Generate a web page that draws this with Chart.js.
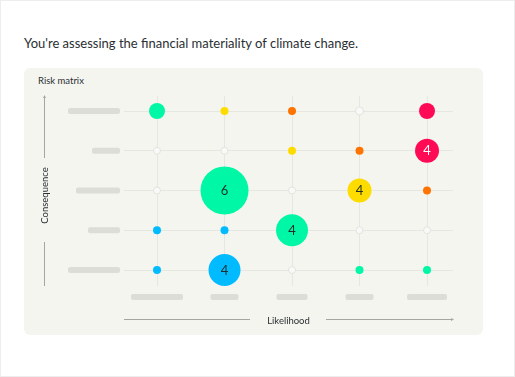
<!DOCTYPE html>
<html>
<head>
<meta charset="utf-8">
<script src="https://cdn.jsdelivr.net/npm/chart.js@4.4.1/dist/chart.umd.min.js"></script>
<style>
  html, body { margin: 0; padding: 0; background: #fff; }
  body { width: 515px; height: 377px; position: relative; overflow: hidden; font-family: Lato, "Open Sans", sans-serif; }
  #frame { position: absolute; left: 0; top: 0; width: 513px; height: 375px; border: 1px solid #ededed; }
  #title { position: absolute; left: 24px; top: 35px; font-size: 13px; color: #2a2f33; white-space: nowrap; }
  #panel { position: absolute; left: 24px; top: 68px; width: 459px; height: 267px; background: #f5f5f0; border-radius: 6px; }
  #sub { position: absolute; left: 38px; top: 75px; font-size: 9.5px; color: #2a2f33; }
  #c { position: absolute; left: 0; top: 0; }
</style>
</head>
<body>
<div id="frame"></div>
<div id="title">You're assessing the financial materiality of climate change.</div>
<div id="panel"></div>
<div id="sub">Risk matrix</div>
<canvas id="c" width="515" height="377"></canvas>
<script>
// Likelihood columns (left to right) and consequence rows (top = highest)
const likelihoodLevels = [0, 1, 2, 3, 4];
const consequenceLevels = [4, 3, 2, 1, 0];

// Bubble radius per cell, top row first
const bubbleRadius = [
  [8, 4, 4, 4, 8],
  [3.5, 3.5, 4, 4, 12],
  [3.5, 24, 3.5, 12, 4],
  [4, 4, 16, 3.5, 3.5],
  [4, 16, 3.5, 4, 4]
];
// Risk rating per cell
const bubbleRating = [
  ['low', 'medium', 'high', 'none', 'severe'],
  ['none', 'none', 'medium', 'high', 'severe'],
  ['none', 'low', 'none', 'medium', 'high'],
  ['minimal', 'minimal', 'low', 'none', 'none'],
  ['minimal', 'minimal', 'none', 'low', 'low']
];
// Count label per cell
const bubbleLabels = [
  ['', '', '', '', ''],
  ['', '', '', '', '4'],
  ['', '6', '', '4', ''],
  ['', '', '4', '', ''],
  ['', '4', '', '', '']
];

const ratingColors = {
  minimal: '#00bbff', low: '#00f7a5', medium: '#ffdc00',
  high: '#ff7400', severe: '#ff0a55', none: '#f9f9f7'
};
const labelColors = { severe: '#ffffff' };

// Redacted tick label placeholders (widths in px)
const yPlaceholderW = [52, 28, 44, 32, 52];
const xPlaceholderW = [52, 28, 31, 28, 40];

const points = [];
consequenceLevels.forEach((cy, ri) => {
  likelihoodLevels.forEach((lx, ci) => {
    points.push({ x: lx, y: cy, r: bubbleRadius[ri][ci],
      rating: bubbleRating[ri][ci], label: bubbleLabels[ri][ci] });
  });
});

function roundRect(ctx, x, y, w, h, r) {
  ctx.beginPath();
  ctx.moveTo(x + r, y);
  ctx.arcTo(x + w, y, x + w, y + h, r);
  ctx.arcTo(x + w, y + h, x, y + h, r);
  ctx.arcTo(x, y + h, x, y, r);
  ctx.arcTo(x, y, x + w, y, r);
  ctx.closePath();
  ctx.fill();
}

const decor = {
  id: 'decor',
  beforeDatasetsDraw(chart) {
    const ctx = chart.ctx, xs = chart.scales.x, ys = chart.scales.y, a = chart.chartArea;
    ctx.save();
    ctx.fillStyle = '#dcddd7';
    consequenceLevels.forEach((v, i) => {
      const y = ys.getPixelForValue(v);
      const w = yPlaceholderW[i];
      roundRect(ctx, a.left - 4 - w, y - 3, w, 6, 2);
    });
    likelihoodLevels.forEach((v, i) => {
      const x = xs.getPixelForValue(v);
      const w = xPlaceholderW[i];
      roundRect(ctx, x - w / 2, a.bottom + 8, w, 6, 2);
    });
    // axis titles with arrows
    ctx.strokeStyle = '#a5a6a0';
    ctx.fillStyle = '#a5a6a0';
    ctx.lineWidth = 1;
    // vertical
    const vx = 44.5;
    ctx.beginPath();
    ctx.moveTo(vx, a.top + 1); ctx.lineTo(vx, 158);
    ctx.moveTo(vx, 242); ctx.lineTo(vx, a.bottom);
    ctx.stroke();
    ctx.beginPath();
    ctx.moveTo(vx, a.top - 1); ctx.lineTo(vx - 1.5, a.top + 2); ctx.lineTo(vx + 1.5, a.top + 2); ctx.closePath(); ctx.fill();
    // horizontal
    const hy = 319.5;
    ctx.beginPath();
    ctx.moveTo(a.left, hy); ctx.lineTo(250, hy);
    ctx.moveTo(326, hy); ctx.lineTo(a.right - 1, hy);
    ctx.stroke();
    ctx.beginPath();
    ctx.moveTo(a.right + 1, hy); ctx.lineTo(a.right - 2, hy - 1.5); ctx.lineTo(a.right - 2, hy + 1.5); ctx.closePath(); ctx.fill();

    ctx.fillStyle = '#2a2f33';
    ctx.font = '9.5px Lato, "Open Sans", sans-serif';
    ctx.textAlign = 'center';
    ctx.textBaseline = 'middle';
    ctx.fillText('Likelihood', 288.5, 321);
    ctx.translate(45, 195.5);
    ctx.rotate(-Math.PI / 2);
    ctx.fillText('Consequence', 0, 0);
    ctx.restore();
  },
  afterDatasetsDraw(chart) {
    const ctx = chart.ctx;
    const meta = chart.getDatasetMeta(0);
    ctx.save();
    ctx.font = '13px Lato, "Open Sans", sans-serif';
    ctx.textAlign = 'center';
    ctx.textBaseline = 'middle';
    meta.data.forEach((el, i) => {
      const p = points[i];
      if (!p.label) return;
      ctx.fillStyle = labelColors[p.rating] || '#1d2e2c';
      ctx.fillText(p.label, el.x, el.y + 0.5);
    });
    ctx.restore();
  }
};

const gridColor = '#e7e7e2';
new Chart(document.getElementById('c'), {
  type: 'bubble',
  data: {
    datasets: [{
      data: points,
      backgroundColor: points.map(p => ratingColors[p.rating]),
      borderColor: points.map(p => p.rating === 'none' ? '#e2e2de' : ratingColors[p.rating]),
      borderWidth: points.map(p => p.rating === 'none' ? 1 : 0),
      hoverRadius: 0
    }]
  },
  options: {
    responsive: false,
    animation: false,
    events: [],
    clip: false,
    layout: { padding: { left: 124, right: 62, top: 96, bottom: 91 } },
    plugins: { legend: { display: false }, tooltip: { enabled: false } },
    scales: {
      x: {
        type: 'linear', min: -0.489, max: 4.385,
        afterBuildTicks: s => { s.ticks = likelihoodLevels.map(v => ({ value: v })); },
        ticks: { display: false },
        grid: { color: gridColor, drawTicks: false },
        border: { display: false }
      },
      y: {
        type: 'linear', min: -0.402, max: 4.378,
        afterBuildTicks: s => { s.ticks = consequenceLevels.map(v => ({ value: v })); },
        ticks: { display: false },
        grid: { color: gridColor, drawTicks: false },
        border: { display: false }
      }
    }
  },
  plugins: [decor]
});
</script>
</body>
</html>
